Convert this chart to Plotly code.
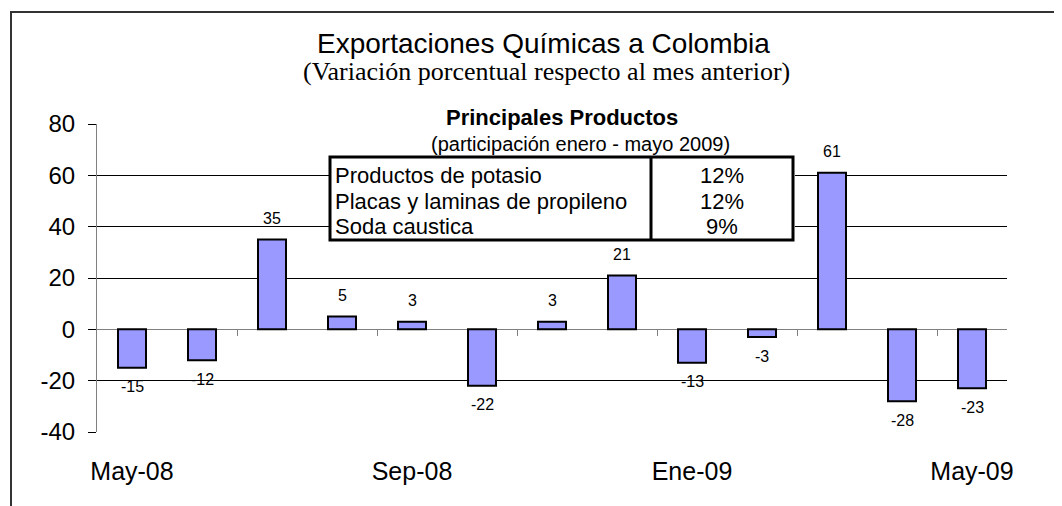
import plotly.graph_objects as go

# datos: variacion porcentual mensual de las exportaciones quimicas a Colombia
meses = ["May-08", "Jun-08", "Jul-08", "Ago-08", "Sep-08", "Oct-08", "Nov-08",
         "Dic-08", "Ene-09", "Feb-09", "Mar-09", "Abr-09", "May-09"]
variacion = [-15, -12, 35, 5, 3, -22, 3, 21, -13, -3, 61, -28, -23]
etiquetas_x = ["May-08", "Sep-08", "Ene-09", "May-09"]
valores_y = [-40, -20, 0, 20, 40, 60, 80]
etiquetas_y = ["-40", "-20", "0", "20", "40", "60", "80"]

# tabla de principales productos
productos = ["Productos de potasio", "Placas y laminas de propileno", "Soda caustica"]
participacion = ["12%", "12%", "9%"]

SANS = "Liberation Sans, Arial, sans-serif"
SERIF = "Liberation Serif, Times New Roman, serif"

# la pagina deja 8px de margen al body: se descuenta del tamaño
OFF = 8
W, H = 1062, 506
# area de trazado (pixeles de la ventana)
L, R, T, B = 97, 1007, 124, 432


def px(x):  # pixel -> paper x
    return (x - L) / (R - L)


def py(y):  # pixel -> paper y
    return (B - y) / (B - T)


fig = go.Figure(go.Bar(
    x=meses, y=variacion,
    width=0.4,
    marker=dict(color="#9999FF", line=dict(color="black", width=2)),
    hoverinfo="x+y",
))
# eje auxiliar solo para las marcas de categoria sobre la linea del cero
fig.add_trace(go.Scatter(x=[], y=[], xaxis="x2", hoverinfo="skip", showlegend=False))

ymin, ymax = valores_y[0], valores_y[-1]

fig.update_layout(
    width=W - OFF, height=H - OFF,
    margin=dict(l=L - OFF, r=W - R, t=T - OFF, b=H - B, pad=0),
    paper_bgcolor="white", plot_bgcolor="white",
    showlegend=False,
    font=dict(family=SANS, color="black"),
    xaxis=dict(
        type="category", range=[-0.5, len(meses) - 0.5],
        tickvals=etiquetas_x, ticktext=etiquetas_x,
        ticks="outside", ticklen=17, tickcolor="rgba(0,0,0,0)",
        showgrid=False, showline=False, zeroline=False,
        tickfont=dict(size=25),
    ),
    xaxis2=dict(
        overlaying="x", anchor="free",
        position=(0 - ymin) / (ymax - ymin),
        range=[-0.5, len(meses) - 0.5],
        tickvals=[i + 1.5 for i in range(0, len(meses) - 2, 2)],
        ticks="outside", ticklen=6, tickcolor="#808080", tickwidth=1,
        showticklabels=False, showgrid=False, showline=False, zeroline=False,
    ),
    yaxis=dict(
        range=[ymin, ymax],
        tickvals=valores_y, ticktext=etiquetas_y,
        showgrid=True, gridcolor="black", gridwidth=1,
        zeroline=True, zerolinecolor="#808080", zerolinewidth=1,
        showline=True, linecolor="#808080", linewidth=1,
        ticks="outside", ticklen=8, tickcolor="black",
        ticklabelstandoff=8,
        tickfont=dict(size=24),
    ),
)

shapes = [
    # marco exterior del grafico
    dict(type="rect", xref="paper", yref="paper",
         x0=px(11), x1=px(1080), y0=py(12), y1=py(530),
         line=dict(color="#333333", width=2), fillcolor="rgba(0,0,0,0)"),
    # fondo blanco del cuadro de productos
    dict(type="rect", xref="paper", yref="paper",
         x0=px(330), x1=px(795), y0=py(108), y1=py(240),
         line=dict(width=0), fillcolor="white", layer="above"),
    # borde de la tabla
    dict(type="rect", xref="paper", yref="paper",
         x0=px(330), x1=px(793), y0=py(157), y1=py(240),
         line=dict(color="black", width=3), fillcolor="rgba(0,0,0,0)", layer="above"),
    dict(type="line", xref="paper", yref="paper",
         x0=px(651), x1=px(651), y0=py(157), y1=py(240),
         line=dict(color="black", width=3), layer="above"),
]

annotations = [
    dict(text="Exportaciones Químicas a Colombia", x=px(543), y=py(44),
         font=dict(family=SANS, size=28)),
    dict(text="(Variación porcentual respecto al mes anterior)", x=px(546), y=py(71),
         font=dict(family=SERIF, size=26)),
    dict(text="<b>Principales Productos</b>", x=px(562), y=py(117),
         font=dict(family=SANS, size=22)),
    dict(text="(participación enero - mayo 2009)", x=px(580), y=py(144),
         font=dict(family=SANS, size=20)),
]
for i, (prod, part) in enumerate(zip(productos, participacion)):
    yrow = py(175.5 + i * 25.5)
    annotations.append(dict(text=prod, x=px(333), y=yrow, xanchor="left",
                            font=dict(family=SANS, size=22)))
    annotations.append(dict(text=part, x=px(722), y=yrow,
                            font=dict(family=SANS, size=22)))

for a in annotations:
    a.update(xref="paper", yref="paper", showarrow=False)
    a.setdefault("xanchor", "center")
    a.setdefault("yanchor", "middle")

# etiquetas de valor fuera del extremo de cada barra
for mes, v in zip(meses, variacion):
    annotations.append(dict(
        text=str(v), x=mes, y=v, xref="x", yref="y", showarrow=False,
        xanchor="center", yanchor="middle", yshift=21 if v >= 0 else -19,
        font=dict(family=SANS, size=16, color="black"),
    ))

fig.update_layout(shapes=shapes, annotations=annotations)

fig.write_html("out.html")
